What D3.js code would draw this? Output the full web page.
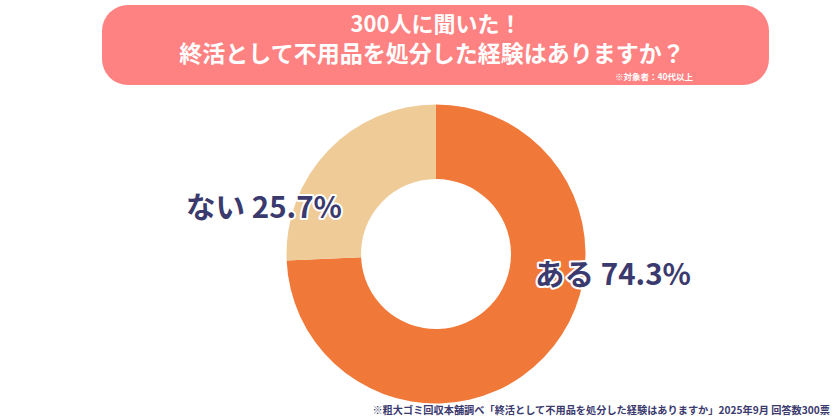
<!DOCTYPE html>
<html><head><meta charset="utf-8">
<script src="https://cdn.jsdelivr.net/npm/d3@7"></script>
<style>body{margin:0;background:#fff;}svg{display:block;font-family:"Noto Sans CJK JP","Noto Sans",sans-serif;}</style>
</head><body>
<svg id="c" width="840" height="420"></svg>
<script>
const categories = ["ある", "ない"];
const values = [74.3, 25.7];
const colors = ["#F07838", "#EFCB97"];
const titleLines = ["300人に聞いた！", "終活として不用品を処分した経験はありますか？"];
const targetNote = "※対象者：40代以上";
const sourceNote = "※粗大ゴミ回収本舗調べ「終活として不用品を処分した経験はありますか」2025年9月 回答数300票";

const svg = d3.select("#c");
svg.append("rect").attr("x",102).attr("y",5).attr("width",667).attr("height",80).attr("rx",26).attr("fill","#FF8282");
svg.append("text").attr("x",436).attr("y",32).attr("text-anchor","middle").attr("fill","#fff")
  .attr("font-size",22).attr("font-weight",700).text(titleLines[0]);
svg.append("text").attr("x",432).attr("y",62).attr("text-anchor","middle").attr("fill","#fff")
  .attr("font-size",23).attr("font-weight",700).text(titleLines[1]);
svg.append("text").attr("x",693).attr("y",80).attr("text-anchor","end").attr("fill","#fff")
  .attr("font-size",8.5).attr("font-weight",700).text(targetNote);

const cx = 436, cy = 254, R = 149.5, r = 75;
const pie = d3.pie().sort(null).value(d => d)(values);
const arc = d3.arc().innerRadius(r).outerRadius(R);
const g = svg.append("g").attr("transform",`translate(${cx},${cy})`);
g.selectAll("path").data(pie).join("path").attr("d",arc).attr("fill",(d,i)=>colors[i]);

const labelPos = [[613,272],[264,205]];
categories.forEach((c,i)=>{
  svg.append("text").attr("x",labelPos[i][0]).attr("y",labelPos[i][1]).attr("text-anchor","middle")
    .attr("dominant-baseline","central").attr("font-size",29.5).attr("font-weight",700)
    .attr("fill","#3B3A6E").attr("stroke","#fff").attr("stroke-width",4).attr("paint-order","stroke")
    .attr("stroke-linejoin","round")
    .text(`${c} ${values[i].toFixed(1)}%`);
});

svg.append("text").attr("x",830).attr("y",414).attr("text-anchor","end").attr("fill","#3B3A6E")
  .attr("font-size",10.2).attr("font-weight",700).text(sourceNote);
</script>
</body></html>
